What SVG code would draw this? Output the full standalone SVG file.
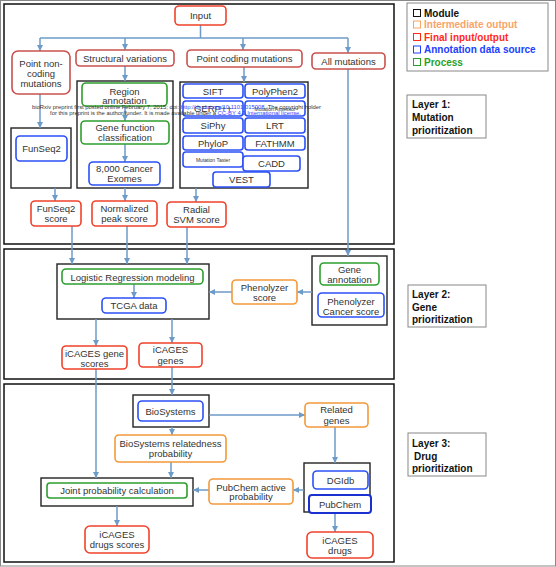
<svg xmlns="http://www.w3.org/2000/svg" width="556" height="567" viewBox="0 0 556 567">
<defs>
<marker id="ah" markerUnits="userSpaceOnUse" markerWidth="7" markerHeight="7" refX="6" refY="3" orient="auto">
<path d="M0,0 L6,3 L0,6 z" fill="#6d9bc9"/>
</marker>
<style>
text{font-family:"Liberation Sans",Arial,sans-serif;font-size:9.5px;fill:#333;text-anchor:middle}
.n rect{stroke-width:1.6px;fill:#fff}
.mt rect{stroke:#c9514e}
.fo rect{stroke:#f0422a}
.io rect{stroke:#f3993a}
.pr rect{stroke:#2e9e2e}
.an rect{stroke:#2b50f5}
.mod{fill:none;stroke:#222;stroke-width:1.4px}
.layer{fill:none;stroke:#111;stroke-width:1.5px}
.lab{fill:#fff;stroke:#888;stroke-width:1px}
.lt{font-weight:bold;font-size:10px;fill:#111;text-anchor:start}
.sm{font-size:5px}
#connectors path{fill:none;stroke:#6d9bc9;stroke-width:1.5px}
#connectors .a{marker-end:url(#ah)}
.wm{font-size:5.5px;text-anchor:start;fill:#333}
.lk{fill:#3344ff}
</style>
</defs>
<rect x="0.5" y="0.5" width="555" height="565.5" fill="#fff" stroke="#888" stroke-width="1"/>
<g id="layers">
<rect class="layer" x="4" y="4" width="390" height="240"/>
<rect class="layer" x="4" y="249" width="390" height="130"/>
<rect class="layer" x="4" y="384" width="390" height="178"/>
</g>
<g id="legend">
<rect class="lab" x="407" y="3" width="141" height="68"/>
<rect x="413.5" y="9.5" width="7" height="7" fill="none" stroke="#111"/>
<text class="lt" x="424" y="16.5">Module</text>
<rect x="413.5" y="21" width="7" height="7" fill="none" stroke="#f8a46a"/>
<text class="lt" x="424" y="28" style="fill:#f8a46a">Intermediate output</text>
<rect x="413.5" y="33.5" width="7" height="7" fill="none" stroke="#ff2a1a"/>
<text class="lt" x="424" y="40.5" style="fill:#ff2a1a">Final input/output</text>
<rect x="413.5" y="46" width="7" height="7" fill="none" stroke="#2040ff"/>
<text class="lt" x="424" y="53" style="fill:#2040ff">Annotation data source</text>
<rect x="413.5" y="58.5" width="7" height="7" fill="none" stroke="#2aa02a"/>
<text class="lt" x="424" y="65.5" style="fill:#2aa02a">Process</text>
</g>
<g id="layer1-label">
<rect class="lab" x="407" y="95" width="79" height="43"/>
<text class="lt" x="412" y="108">Layer 1:</text>
<text class="lt" x="412" y="121">Mutation</text>
<text class="lt" x="412" y="134">prioritization</text>
</g>
<g id="layer2-label">
<rect class="lab" x="408" y="285" width="78" height="42"/>
<text class="lt" x="412" y="298">Layer 2:</text>
<text class="lt" x="412" y="310.5">Gene</text>
<text class="lt" x="412" y="323">prioritization</text>
</g>
<g id="layer3-label">
<rect class="lab" x="408" y="433" width="78" height="43"/>
<text class="lt" x="412" y="447">Layer 3:</text>
<text class="lt" x="414" y="459.5">Drug</text>
<text class="lt" x="412" y="472">prioritization</text>
</g>
<g id="modules">
<rect id="mod-sv" class="mod" x="77" y="81" width="96" height="107"/>
<rect id="mod-pc" class="mod" x="180" y="82" width="128" height="106"/>
<rect id="mod-funseq" class="mod" x="11" y="128" width="60" height="60"/>
<rect id="mod-lr" class="mod" x="57" y="264" width="152" height="55"/>
<rect id="mod-ga" class="mod" x="312" y="256" width="75" height="69"/>
<rect id="mod-bio" class="mod" x="133" y="395" width="76" height="32"/>
<rect id="mod-joint" class="mod" x="41" y="478" width="152" height="28"/>
<rect id="mod-db" class="mod" x="304" y="463" width="66" height="49"/>
</g>
<g id="connectors">
<path d="M200.5,25 V38"/>
<path d="M40,38 H348"/>
<path class="a" d="M40,38 V51"/>
<path class="a" d="M125,38 V50"/>
<path class="a" d="M243,38 V50"/>
<path class="a" d="M348,38 V53"/>
<path class="a" d="M40,94 V128"/>
<path class="a" d="M55,188 V201"/>
<path class="a" d="M125,66 V81"/>
<path class="a" d="M125,106 V121"/>
<path class="a" d="M125,144 V162"/>
<path class="a" d="M125,188 V201"/>
<path class="a" d="M244,67 V82"/>
<path class="a" d="M196,188 V202"/>
<path class="a" d="M348,69 V256"/>
<path class="a" d="M72,226 V264"/>
<path class="a" d="M127,226 V264"/>
<path class="a" d="M187,227 V264"/>
<path class="a" d="M134,284 V298"/>
<path class="a" d="M232,292 H209"/>
<path class="a" d="M312,292 H297"/>
<path class="a" d="M96,319 V346"/>
<path class="a" d="M172,319 V343"/>
<path class="a" d="M96,369 V478"/>
<path class="a" d="M172,367 V395"/>
<path class="a" d="M209,415 H305"/>
<path class="a" d="M172,427 V435"/>
<path class="a" d="M171,462 V478"/>
<path class="a" d="M209,490 H193"/>
<path class="a" d="M335,427 V463"/>
<path class="a" d="M304,490 H293"/>
<path class="a" d="M335,513 V532"/>
<path class="a" d="M117,506 V526"/>
</g>
<g id="input" class="n fo"><rect x="175" y="6" width="51" height="19" rx="4"/><text x="200.5" y="18.5">Input</text></g>
<g id="point-noncoding" class="n mt"><rect x="12" y="51" width="58" height="43" rx="6"/><text x="41" y="66.5">Point non-</text><text x="41" y="76.5">coding</text><text x="41" y="86.5">mutations</text></g>
<g id="structural-variations" class="n mt"><rect x="76" y="50" width="98" height="16" rx="4"/><text x="125" y="61.5">Structural variations</text></g>
<g id="point-coding" class="n mt"><rect x="187" y="50" width="115" height="17" rx="4"/><text x="244.5" y="62">Point coding mutations</text></g>
<g id="all-mutations" class="n mt"><rect x="312" y="53" width="73" height="16" rx="4"/><text x="348.5" y="64.5">All mutations</text></g>
<g id="region-annotation" class="n pr"><rect x="82" y="83" width="85" height="23" rx="4"/><text x="124.5" y="94.5">Region</text><text x="124.5" y="104">annotation</text></g>
<g id="gene-function" class="n pr"><rect x="81" y="121" width="88" height="23" rx="4"/><text x="125" y="130.5">Gene function</text><text x="125" y="140.5">classification</text></g>
<g id="cancer-exomes" class="n an"><rect x="89" y="162" width="71" height="23" rx="4"/><text x="124.5" y="171.5">8,000 Cancer</text><text x="124.5" y="181.5">Exomes</text></g>
<g id="sift" class="n an"><rect x="183" y="84" width="60" height="14" rx="3"/><text x="213" y="94.5">SIFT</text></g>
<g id="polyphen2" class="n an"><rect x="245" y="84" width="60" height="14" rx="3"/><text x="275" y="94.5">PolyPhen2</text></g>
<g id="gerp" class="n an"><rect x="183" y="101" width="60" height="15" rx="3"/><text x="213" y="112">GERP++</text></g>
<g id="mutation-assessor" class="n an"><rect x="245" y="101" width="60" height="15" rx="3"/><text class="sm" x="275" y="110.5">Mutation Assessor</text></g>
<g id="siphy" class="n an"><rect x="183" y="118" width="60" height="15" rx="3"/><text x="213" y="129">SiPhy</text></g>
<g id="lrt" class="n an"><rect x="245" y="118" width="60" height="15" rx="3"/><text x="275" y="129">LRT</text></g>
<g id="phylop" class="n an"><rect x="183" y="136" width="60" height="14" rx="3"/><text x="213" y="146.5">PhyloP</text></g>
<g id="fathmm" class="n an"><rect x="245" y="136" width="60" height="14" rx="3"/><text x="275" y="146.5">FATHMM</text></g>
<g id="mutation-taster" class="n an"><rect x="183" y="152" width="60" height="15" rx="3"/><text class="sm" x="213" y="161.5">Mutation Taster</text></g>
<g id="cadd" class="n an"><rect x="243" y="156" width="57" height="15" rx="3"/><text x="271.5" y="167">CADD</text></g>
<g id="vest" class="n an"><rect x="213" y="172" width="57" height="15" rx="3"/><text x="241.5" y="183">VEST</text></g>
<g id="funseq2" class="n an"><rect x="16" y="136" width="51" height="25" rx="4"/><text x="41.5" y="151.5">FunSeq2</text></g>
<g id="funseq2-score" class="n fo"><rect x="31" y="201" width="50" height="25" rx="4"/><text x="56" y="212">FunSeq2</text><text x="56" y="222">score</text></g>
<g id="normalized-peak" class="n fo"><rect x="92" y="201" width="65" height="25" rx="4"/><text x="124.5" y="211.5">Normalized</text><text x="124.5" y="221.5">peak score</text></g>
<g id="radial-svm" class="n fo"><rect x="167" y="202" width="59" height="25" rx="4"/><text x="196.5" y="212.5">Radial</text><text x="196.5" y="222.5">SVM score</text></g>
<g id="logistic-regression" class="n pr"><rect x="62" y="269" width="141" height="15" rx="4"/><text x="132.5" y="280.5">Logistic Regression modeling</text></g>
<g id="tcga" class="n an"><rect x="102" y="298" width="64" height="15" rx="4"/><text x="134" y="308.5">TCGA data</text></g>
<g id="phenolyzer-score" class="n io"><rect x="232" y="280" width="65" height="24" rx="4"/><text x="264.5" y="290.5">Phenolyzer</text><text x="264.5" y="300.5">score</text></g>
<g id="gene-annotation" class="n pr"><rect x="320" y="263" width="59" height="22" rx="4"/><text x="349.5" y="272.5">Gene</text><text x="349.5" y="282.5">annotation</text></g>
<g id="phenolyzer-cancer" class="n an"><rect x="318" y="293" width="66" height="24" rx="4"/><text x="351" y="304.5">Phenolyzer</text><text x="351" y="314.5">Cancer score</text></g>
<g id="icages-gene-scores" class="n fo"><rect x="62" y="346" width="65" height="23" rx="4"/><text x="94.5" y="356.5">iCAGES gene</text><text x="94.5" y="366.5">scores</text></g>
<g id="icages-genes" class="n fo"><rect x="139" y="343" width="63" height="24" rx="4"/><text x="170.5" y="352.5">iCAGES</text><text x="170.5" y="363.5">genes</text></g>
<g id="biosystems" class="n an"><rect x="138" y="401" width="65" height="20" rx="4"/><text x="170.5" y="414.5">BioSystems</text></g>
<g id="related-genes" class="n io"><rect x="305" y="403" width="63" height="24" rx="4"/><text x="336.5" y="412.5">Related</text><text x="336.5" y="423.5">genes</text></g>
<g id="biosystems-prob" class="n io"><rect x="115" y="435" width="111" height="27" rx="4"/><text x="170.5" y="446.5">BioSystems relatedness</text><text x="170.5" y="456.5">probability</text></g>
<g id="joint-prob" class="n pr"><rect x="47" y="483" width="140" height="15" rx="3"/><text x="117" y="494">Joint probability calculation</text></g>
<g id="pubchem-prob" class="n io"><rect x="209" y="479" width="84" height="25" rx="4"/><text x="251" y="490.5">PubChem active</text><text x="251" y="499.5">probability</text></g>
<g id="dgidb" class="n an"><rect x="313" y="471" width="55" height="18" rx="4"/><text x="340.5" y="483.5">DGIdb</text></g>
<g id="pubchem" class="n an"><rect x="309" y="495" width="62" height="18" rx="3" style="stroke:#1a30d0;stroke-width:2px"/><text x="340" y="507.5">PubChem</text></g>
<g id="icages-drugs" class="n fo"><rect x="307" y="532" width="66" height="26" rx="5"/><text x="340" y="543.5">iCAGES</text><text x="340" y="553.5">drugs</text></g>
<g id="icages-drug-scores" class="n fo"><rect x="85" y="526" width="64" height="27" rx="5"/><text x="117" y="537.5">iCAGES</text><text x="117" y="547.5">drugs scores</text></g>
<g id="watermark">
<text class="wm" x="32" y="108.5" textLength="289" lengthAdjust="spacingAndGlyphs">bioRxiv preprint first posted online February 7, 2015; doi: <tspan class="lk">http://dx.doi.org/10.1101/015008</tspan>. The copyright holder</text>
<text class="wm" x="50" y="114.5" textLength="251" lengthAdjust="spacingAndGlyphs">for this preprint is the author/funder. It is made available under a <tspan class="lk">CC-BY 4.0 International license</tspan>.</text>
</g>
</svg>
